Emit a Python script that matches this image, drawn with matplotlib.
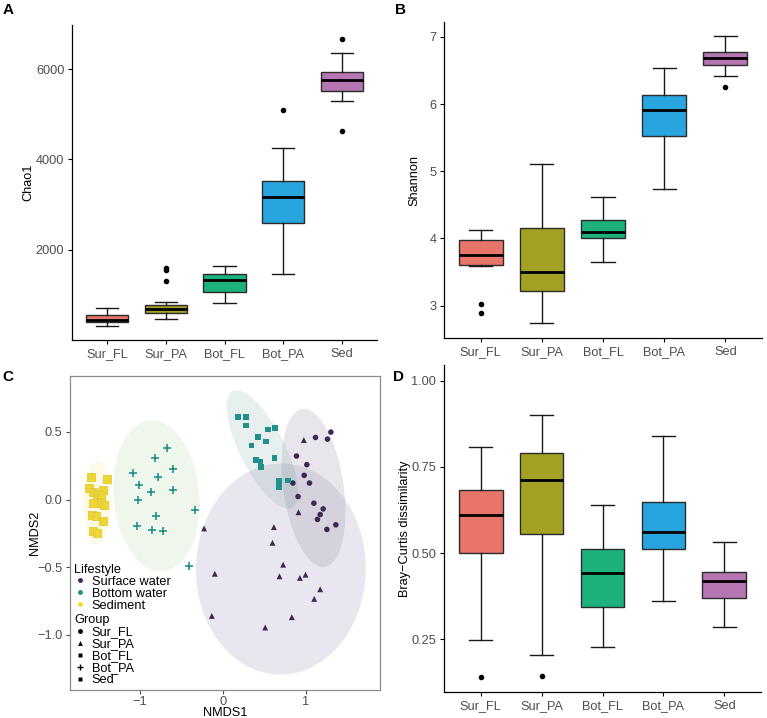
import numpy as np
import matplotlib
matplotlib.use("Agg")
import matplotlib.pyplot as plt
from matplotlib.lines import Line2D
from matplotlib.path import Path
from matplotlib.patches import Polygon

plt.rcParams['font.family'] = ['Liberation Sans', 'DejaVu Sans']

#---------------------------------------------------------------------#
# data
groups = ["Sur_FL", "Sur_PA", "Bot_FL", "Bot_PA", "Sed"]
box_colors = ["#E8756A", "#A2A123", "#1DB27C", "#28A5DE", "#B676B3"]

# A - Chao1
chao1_lo = [325, 466, 819, 1465, 5294]
chao1_q1 = [410, 598, 1061, 2605, 5515]
chao1_med = [445, 690, 1333, 3170, 5750]
chao1_q3 = [565, 781, 1465, 3523, 5941]
chao1_hi = [708, 840, 1648, 4250, 6345]
chao1_out = [[], [1590, 1553, 1318], [], [5096], [6662, 4640]]

# B - Shannon
shan_lo = [3.59, 2.74, 3.645, 4.74, 6.415]
shan_q1 = [3.60, 3.22, 4.01, 5.53, 6.59]
shan_med = [3.76, 3.50, 4.09, 5.91, 6.68]
shan_q3 = [3.98, 4.15, 4.28, 6.14, 6.78]
shan_hi = [4.12, 5.11, 4.62, 6.54, 7.02]
shan_out = [[3.03, 2.89], [], [], [], [6.26]]

# D - Bray-Curtis
bc_lo = [0.249, 0.204, 0.228, 0.361, 0.285]
bc_q1 = [0.500, 0.556, 0.344, 0.513, 0.371]
bc_med = [0.611, 0.712, 0.441, 0.562, 0.418]
bc_q3 = [0.684, 0.790, 0.511, 0.649, 0.444]
bc_hi = [0.808, 0.901, 0.638, 0.839, 0.531]
bc_out = [[0.14], [0.143], [], [], []]

# C - NMDS
surfl_x = [1.304, 1.118, 1.263, 0.889, 1.014, 0.982, 0.845, 1.046, 0.908, 1.099, 1.211, 1.175, 1.142, 1.256, 1.364]
surfl_y = [0.499, 0.459, 0.447, 0.322, 0.258, 0.179, 0.122, 0.122, 0.022, -0.027, -0.069, -0.111, -0.147, -0.221, -0.187]
surpa_x = [0.978, -0.226, 0.616, 0.599, 0.913, 0.728, -0.097, 0.684, 0.930, 0.998, 1.175, 1.103, -0.133, 0.833, 0.511]
surpa_y = [0.440, -0.214, -0.204, -0.320, -0.094, -0.482, -0.549, -0.568, -0.580, -0.556, -0.664, -0.735, -0.861, -0.870, -0.947]
botfl_x = [0.185, 0.281, 0.281, 0.543, 0.631, 0.426, 0.519, 0.345, 0.398, 0.454, 0.623, 0.459, 0.676, 0.785, 0.680]
botfl_y = [0.612, 0.612, 0.546, 0.518, 0.528, 0.462, 0.428, 0.398, 0.292, 0.277, 0.307, 0.240, 0.137, 0.142, 0.093]
botpa_x = [-0.676, -0.817, -0.600, -1.079, -0.781, -1.007, -0.869, -0.604, -1.026, -0.338, -0.809, -1.034, -0.857, -0.724, -0.407]
botpa_y = [0.381, 0.310, 0.229, 0.196, 0.167, 0.111, 0.054, 0.069, -0.005, -0.074, -0.121, -0.195, -0.226, -0.236, -0.492]
sed_x = [-1.590, -1.393, -1.618, -1.442, -1.569, -1.521, -1.469, -1.562, -1.473, -1.433, -1.578, -1.530, -1.449, -1.569, -1.514]
sed_y = [0.167, 0.155, 0.086, 0.074, 0.056, 0.039, 0.044, -0.022, -0.022, -0.044, -0.111, -0.121, -0.160, -0.236, -0.251]

lifestyles = ["Surface water", "Bottom water", "Sediment"]
life_colors = ["#3F2657", "#21908C", "#F5DC26"]
group_life = [0, 0, 1, 1, 2]
ellipse_colors = ["#4A3560", "#45417E", "#3E8A7E", "#7DBE6A", "#F2E03A"]
#---------------------------------------------------------------------#

W, H = 767, 718
fig = plt.figure(figsize=(W / 100, H / 100), dpi=100)

def add_ax(l, t, r, b):
    return fig.add_axes([l / W, 1 - b / H, (r - l) / W, (b - t) / H])

TICK_COL = "#4D4D4D"
FS = 9.2

def style_classic(ax):
    for s in ["top", "right"]:
        ax.spines[s].set_visible(False)
    for s in ["left", "bottom"]:
        ax.spines[s].set_linewidth(0.9)
        ax.spines[s].set_color("black")
    ax.tick_params(length=3, width=0.8, color="black", labelsize=FS,
                   labelcolor=TICK_COL, pad=2.5)

def draw_boxes(ax, lo, q1, med, q3, hi, out):
    stats = []
    for i in range(len(groups)):
        stats.append(dict(whislo=lo[i], q1=q1[i], med=med[i], q3=q3[i],
                          whishi=hi[i], fliers=out[i], label=groups[i]))
    bp = ax.bxp(stats, positions=range(1, 6), widths=0.72, capwidths=0.38,
                patch_artist=True, showfliers=True,
                boxprops=dict(edgecolor="#2B2B2B", linewidth=1.0),
                medianprops=dict(color="black", linewidth=2.0, solid_capstyle="butt"),
                whiskerprops=dict(color="#1A1A1A", linewidth=1.0),
                capprops=dict(color="#1A1A1A", linewidth=1.0),
                flierprops=dict(marker="o", markerfacecolor="black",
                                markeredgecolor="black", markersize=3))
    for patch, c in zip(bp["boxes"], box_colors):
        patch.set_facecolor(c)
    ax.set_xlim(0.4, 5.6)
    style_classic(ax)

# ---- A
axA = add_ax(72, 25, 377, 340)
draw_boxes(axA, chao1_lo, chao1_q1, chao1_med, chao1_q3, chao1_hi, chao1_out)
axA.set_ylim(7, 6975)
axA.set_yticks([2000, 4000, 6000])
axA.set_ylabel("Chao1", fontsize=FS)
axA.yaxis.set_label_coords(-0.125, 0.5)

# ---- B
axB = add_ax(444, 22, 762, 338)
draw_boxes(axB, shan_lo, shan_q1, shan_med, shan_q3, shan_hi, shan_out)
axB.set_ylim(2.517, 7.223)
axB.set_yticks([3, 4, 5, 6, 7])
axB.set_ylabel("Shannon", fontsize=FS)
axB.yaxis.set_label_coords(-0.075, 0.5)

# ---- D
axD = add_ax(444, 365, 761, 692)
draw_boxes(axD, bc_lo, bc_q1, bc_med, bc_q3, bc_hi, bc_out)
axD.set_ylim(0.0975, 1.045)
axD.set_yticks([0.25, 0.5, 0.75, 1.0])
axD.set_yticklabels(["0.25", "0.50", "0.75", "1.00"])
axD.set_ylabel("Bray\u2212Curtis dissimilarity", fontsize=FS)
axD.yaxis.set_label_coords(-0.105, 0.5)

# ---- C  NMDS
def cov_trob(xy, nu=5, maxit=25, tol=0.01):
    n, p = xy.shape
    w = np.ones(n)
    loc = xy.mean(axis=0)
    for _ in range(maxit):
        w0 = w
        X = xy - loc
        C = (w[:, None] * X).T @ X / w.sum()
        Q = np.einsum("ij,jk,ik->i", X, np.linalg.inv(C), X)
        w = (nu + p) / (nu + Q)
        loc = (w[:, None] * xy).sum(axis=0) / w.sum()
        if np.all(np.abs(w - w0) < tol):
            break
    cov = (w[:, None] * X).T @ X / n
    return loc, cov

def ellipse_pts(x, y, level=0.95, segments=60):
    xy = np.column_stack([x, y])
    loc, cov = cov_trob(xy)
    dfd = len(x) - 1
    fq = dfd / 2 * ((1 - level) ** (-2 / dfd) - 1)  # qf(level, 2, dfd)
    radius = np.sqrt(2 * fq)
    R = np.linalg.cholesky(cov).T
    ang = np.linspace(0, 2 * np.pi, segments + 1)
    circ = np.column_stack([np.cos(ang), np.sin(ang)])
    return loc + radius * circ @ R

axC = add_ax(70, 376, 380, 690)
nmds_x = [surfl_x, surpa_x, botfl_x, botpa_x, sed_x]
nmds_y = [surfl_y, surpa_y, botfl_y, botpa_y, sed_y]

for i in range(5):
    pts = ellipse_pts(nmds_x[i], nmds_y[i])
    axC.add_patch(Polygon(pts, closed=True, facecolor=ellipse_colors[i],
                          edgecolor="none", alpha=0.12, zorder=1))

sq_cross = Path([(-1, -1), (1, -1), (1, 1), (-1, 1), (-1, -1), (1, 1), (-1, 1), (1, -1)],
                [Path.MOVETO, Path.LINETO, Path.LINETO, Path.LINETO, Path.CLOSEPOLY,
                 Path.LINETO, Path.MOVETO, Path.LINETO])
group_markers = ["o", "^", "s", "+", "s"]
group_sizes = [16, 18, 15, 38, 26]

for i in range(5):
    c = life_colors[group_life[i]]
    if group_markers[i] == "+":
        axC.scatter(nmds_x[i], nmds_y[i], marker="+", s=group_sizes[i], c=c,
                    linewidths=1.2, zorder=3)
    elif i == 4:
        axC.scatter(nmds_x[i], nmds_y[i], marker="s", s=group_sizes[i], c=c,
                    edgecolors="#E3C82A", linewidths=0.6, zorder=3)
        axC.scatter(nmds_x[i], nmds_y[i], marker=sq_cross, s=14, facecolors="none",
                    edgecolors="#E6D04A", linewidths=0.5, zorder=4)
    else:
        axC.scatter(nmds_x[i], nmds_y[i], marker=group_markers[i], s=group_sizes[i],
                    c=c, edgecolors="none", zorder=3)

axC.set_xlim(-1.845, 1.897)
axC.set_ylim(-1.409, 0.914)
axC.set_xticks([-1, 0, 1])
axC.set_xticklabels(["\u22121", "0", "1"])
axC.set_yticks([-1.0, -0.5, 0.0, 0.5])
axC.set_yticklabels(["\u22121.0", "\u22120.5", "0.0", "0.5"])
for s in axC.spines.values():
    s.set_color("#8C8C8C")
    s.set_linewidth(0.9)
axC.tick_params(length=3, width=0.8, color="#4D4D4D", labelsize=FS,
                labelcolor=TICK_COL, pad=2.5)
axC.tick_params(axis="x", pad=1.2)
axC.set_xlabel("NMDS1", fontsize=FS, labelpad=-0.5)
axC.set_ylabel("NMDS2", fontsize=FS)
axC.yaxis.set_label_coords(-0.095, 0.5)

legend_kw = dict(loc="upper left", frameon=False, fontsize=FS, title_fontsize=FS,
                 alignment="left", handlelength=0.8, handletextpad=0.55,
                 labelspacing=0.0, borderpad=0.2, borderaxespad=0.0)
life_handles = [Line2D([], [], linestyle="none", marker="o", markersize=3.5,
                       markerfacecolor=c, markeredgecolor="none") for c in life_colors]
leg1 = axC.legend(life_handles, lifestyles, title="Lifestyle",
                  bbox_to_anchor=(0.006, 0.41), **legend_kw)
axC.add_artist(leg1)
grp_handles = []
for i in range(5):
    if i == 3:
        h = Line2D([], [], linestyle="none", marker="+", markersize=5,
                   markeredgecolor="black", markeredgewidth=1.0)
    else:
        h = Line2D([], [], linestyle="none", marker=group_markers[i], markersize=3.5,
                   markerfacecolor="black", markeredgecolor="none")
    grp_handles.append(h)
leg2 = axC.legend(grp_handles, groups, title="Group",
                  bbox_to_anchor=(0.006, 0.249), **legend_kw)

# panel letters
for lab, (x, y) in zip("ABCD", [(8, 10), (400, 10), (8, 377), (398, 377)]):
    fig.text(x / W, 1 - y / H, lab, fontsize=11, fontweight="bold",
             ha="center", va="center")

fig.savefig("out.png", dpi=100)
